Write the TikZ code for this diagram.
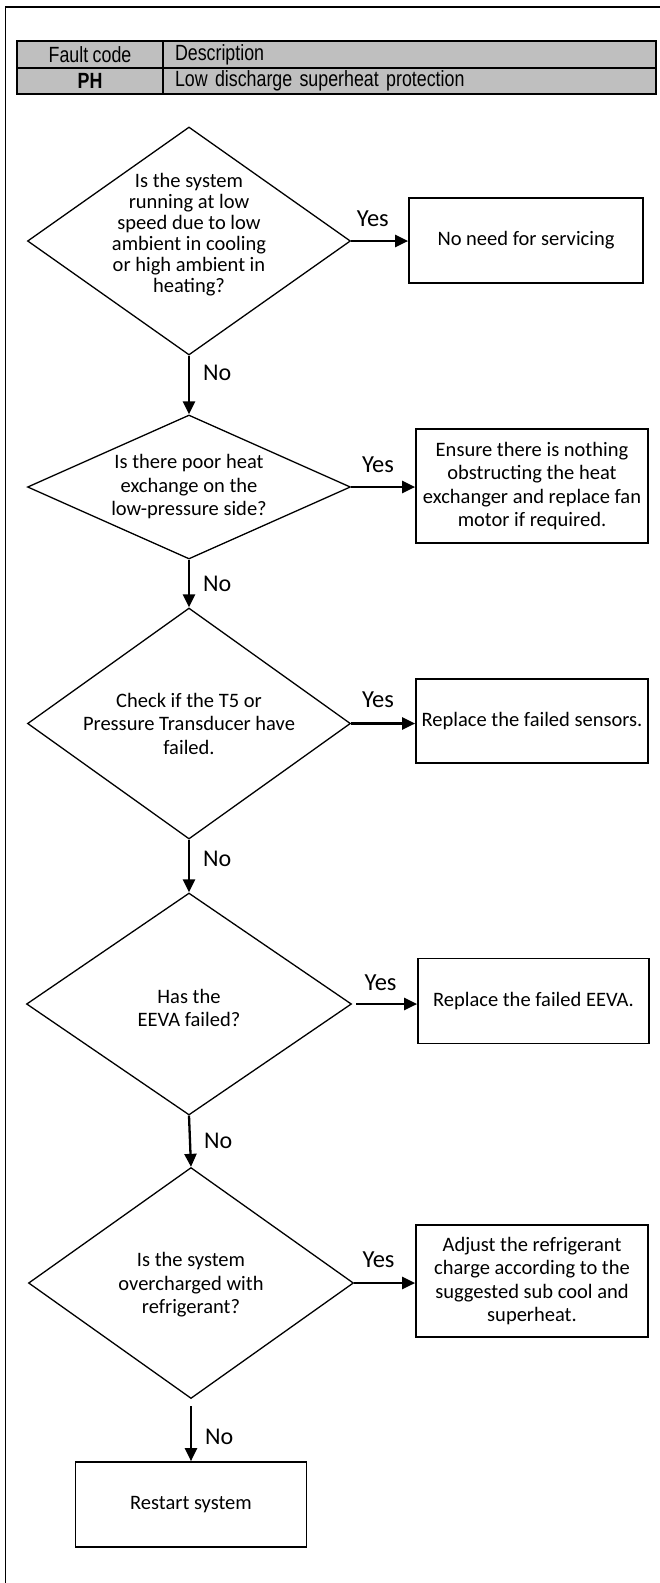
\documentclass[tikz,border=0pt]{standalone}
\usepackage{fontspec}
\setmainfont{Carlito}
\newfontfamily\tabfont[FakeStretch=0.81,WordSpace=0.9]{Liberation Sans}
\usetikzlibrary{shapes.geometric,arrows.meta}
\definecolor{tablegray}{RGB}{191,191,191}
\begin{document}
\begin{tikzpicture}[x=1pt,y=-1pt,
  dia/.style={draw=black, diamond, inner sep=0pt, line width=1.3pt},
  box/.style={draw=black, rectangle, inner sep=0pt, line width=1.7pt, align=center, font=\fontsize{20.5}{23.5}\selectfont},
  dtext/.style={align=center, font=\fontsize{20.5}{23.5}\selectfont, inner sep=0pt},
  arr/.style={line width=2.3pt, -{Triangle[length=13pt,width=12pt]}},
  ylab/.style={font=\fontsize{24.5}{26}\selectfont, inner sep=0pt},
  nlab/.style={font=\fontsize{24}{26}\selectfont, inner sep=0pt, anchor=west, xshift=13pt},
  cell/.style={draw=black, fill=tablegray, rectangle, line width=1.2pt, inner sep=0pt, minimum height=27pt, font=\tabfont\fontsize{22}{24}\selectfont},
]
\useasboundingbox (0,0) rectangle (660,1583);
% frame
\draw[line width=1.3pt] (5.5,1590) -- (5.5,7) -- (665,7);

% table
\node[cell, minimum width=146pt] (c11) at (90,54.5) {Fault code};
\node[cell, minimum width=493pt, text width=469pt, align=left] (c12) at (409.5,54.5) {Description};
\node[cell, minimum width=146pt, minimum height=26pt] (c21) at (90,81) {\bfseries PH};
\node[cell, minimum width=493pt, minimum height=26pt, text width=469pt, align=left] (c22) at (409.5,81) {Low discharge superheat protection};

% diamonds
\node[dia, minimum width=323pt, minimum height=228pt,
  label={[dtext, font=\fontsize{20.5}{21}\selectfont, yshift=6pt]center:{Is the system\\running at low\\speed due to low\\ambient in cooling\\or high ambient in\\heating?}}] (d1) at (189,241) {};
\node[dia, minimum width=323pt, minimum height=144pt,
  label={[dtext]center:{Is there poor heat\\exchange on the\\low-pressure side?}}] (d2) at (189,487) {};
\node[dia, minimum width=323pt, minimum height=231pt,
  label={[dtext]center:{Check if the T5 or\\Pressure Transducer have\\failed.}}] (d3) at (189,723.5) {};
\node[dia, minimum width=325pt, minimum height=222pt,
  label={[dtext, yshift=-4pt]center:{Has the\\EEVA failed?}}] (d4) at (189,1004) {};
\node[dia, minimum width=325pt, minimum height=231pt,
  label={[dtext, yshift=-2pt]center:{Is the system\\overcharged with\\refrigerant?}}] (d5) at (191,1283) {};

% boxes
\node[box, minimum width=234pt, minimum height=85pt] (b1) at (526,240.5) {No need for servicing};
\node[box, minimum width=232pt, minimum height=114pt] (b2) at (532,486) {Ensure there is nothing\\obstructing the heat\\exchanger and replace fan\\motor if required.};
\node[box, minimum width=232pt, minimum height=84pt] (b3) at (532,721) {Replace the failed sensors.};
\node[box, minimum width=231pt, minimum height=85pt] (b4) at (533.5,1001) {Replace the failed EEVA.};
\node[box, minimum width=232pt, minimum height=112pt] (b5) at (532,1281) {Adjust the refrigerant\\charge according to the\\suggested sub cool and\\superheat.};
\node[box, minimum width=231pt, minimum height=85pt] (b6) at (191,1504.5) {Restart system};

% yes arrows
\draw[arr] (d1.east) -- node[ylab, pos=0.38, yshift=22pt] {Yes} (d1.east -| b1.west);
\draw[arr] (d2.east) -- node[ylab, pos=0.42, yshift=22pt] {Yes} (d2.east -| b2.west);
\draw[arr] (d3.east) -- node[ylab, pos=0.42, yshift=24pt] {Yes} (d3.east -| b3.west);
\draw[arr] ([xshift=4pt]d4.east) -- node[ylab, pos=0.4, yshift=21pt] {Yes} (d4.east -| b4.west);
\draw[arr] (d5.east) -- node[ylab, pos=0.4, yshift=23pt] {Yes} (d5.east -| b5.west);

% no arrows
\draw[arr] (d1.south) -- node[nlab, pos=0.3] {No} (d2.north);
\draw[arr] (d2.south) -- node[nlab, pos=0.5] {No} (d3.north);
\draw[arr] (d3.south) -- node[nlab, pos=0.37] {No} (d4.north);
\draw[arr] (d4.south) -- node[nlab, pos=0.5] {No} (d5.north);
\draw[arr] ([yshift=-7pt]d5.south) -- node[nlab, pos=0.55] {No} (b6.north);
\end{tikzpicture}
\end{document}
